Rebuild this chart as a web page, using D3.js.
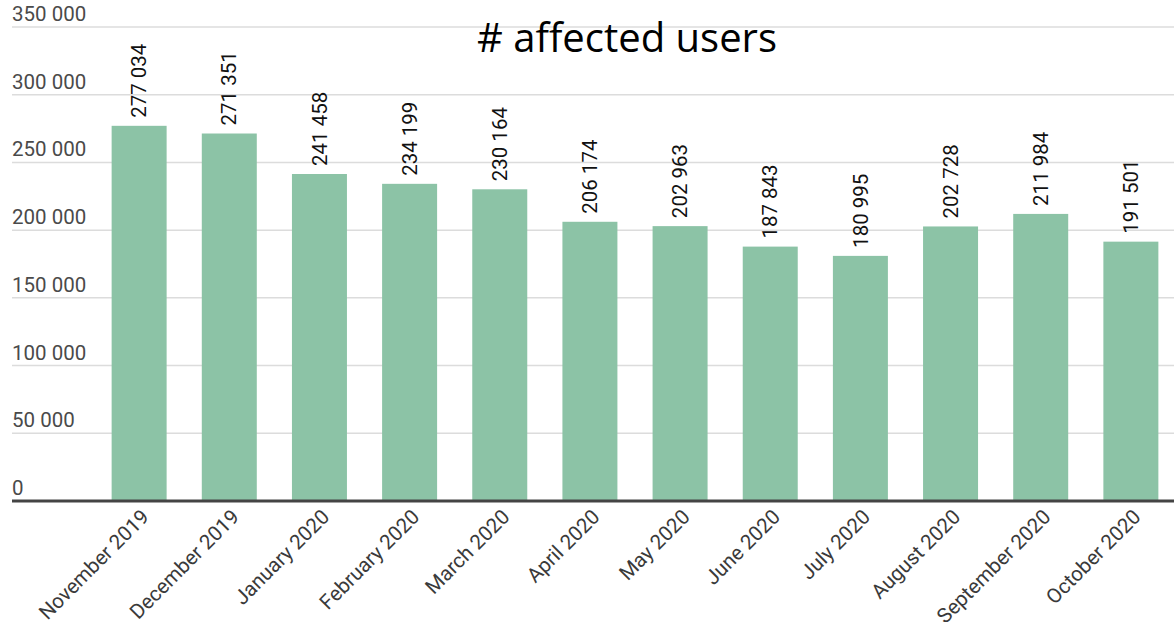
<!DOCTYPE html>
<html><head><meta charset="utf-8">
<script src="https://cdn.jsdelivr.net/npm/d3@7"></script>
<style>body{margin:0;background:#fff}svg{display:block}</style>
</head><body>
<script>
const categories = ["November 2019","December 2019","January 2020","February 2020","March 2020","April 2020","May 2020","June 2020","July 2020","August 2020","September 2020","October 2020"];
const values = [277034,271351,241458,234199,230164,206174,202963,187843,180995,202728,211984,191501];
const yTicks = [0,50000,100000,150000,200000,250000,300000,350000];
const title = "# affected users";

const W = 1174, H = 630;
const svg = d3.select("body").append("svg").attr("width", W).attr("height", H);
const fmt = v => d3.format(",")(v).replace(/,/g, " ");

const y = d3.scaleLinear().domain([0, 350000]).range([501, 27]);
const x = d3.scaleBand().domain(categories).range([94.5, 1175.5]).paddingInner(0.39).paddingOuter(0.19);

// gridlines
svg.append("g").selectAll("line").data(yTicks.filter(d => d > 0)).join("line")
  .attr("x1", 12).attr("x2", W).attr("y1", d => y(d)).attr("y2", d => y(d))
  .attr("stroke", "#dcdcdc").attr("stroke-width", 1.5);

// y labels
svg.append("g").selectAll("text").data(yTicks).join("text")
  .attr("x", 12).attr("y", d => y(d) - 6)
  .attr("font-family", "Roboto").attr("font-size", 20.5).attr("fill", "#4a4a4a")
  .text(fmt);

// bars
svg.append("g").selectAll("rect").data(values).join("rect")
  .attr("x", (d, i) => x(categories[i])).attr("width", x.bandwidth())
  .attr("y", d => y(d)).attr("height", d => y(0) - y(d))
  .attr("fill", "#8cc3a6");

// axis line
svg.append("line").attr("x1", 12).attr("x2", W).attr("y1", y(0)).attr("y2", y(0))
  .attr("stroke", "#444").attr("stroke-width", 3);

// value labels
svg.append("g").selectAll("text").data(values).join("text")
  .attr("transform", (d, i) => `translate(${x(categories[i]) + x.bandwidth() / 2},${y(d) - 8}) rotate(-90)`)
  .attr("dy", "0.35em")
  .attr("font-family", "Roboto").attr("font-size", 20.5).attr("fill", "#111")
  .text(fmt);

// x labels
svg.append("g").selectAll("text").data(categories).join("text")
  .attr("transform", d => `translate(${x(d) + x.bandwidth() / 2 + 6},${y(0) + 12}) rotate(-45)`)
  .attr("text-anchor", "end").attr("dy", "0.35em")
  .attr("font-family", "Roboto").attr("font-size", 20.5).attr("fill", "#3a3a3a")
  .text(d => d);

// title
svg.append("text").attr("x", 627).attr("y", 52).attr("text-anchor", "middle")
  .attr("font-family", "Open Sans").attr("font-size", 40).attr("fill", "#000")
  .text(title);
</script>
</body></html>
